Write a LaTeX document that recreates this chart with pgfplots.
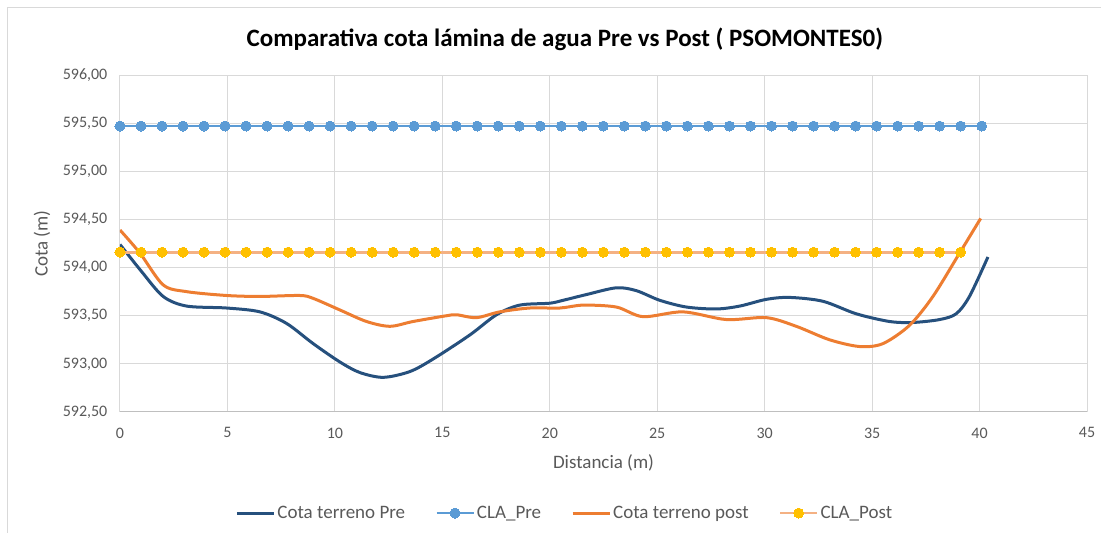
\documentclass[border=0pt]{standalone}
\usepackage{fontspec}
\setmainfont{Carlito}
\usepackage{pgfplots}
\pgfplotsset{compat=1.18}
\definecolor{navy}{RGB}{38,80,125}
\definecolor{lblue}{HTML}{5B9BD5}
\definecolor{orng}{HTML}{ED7D31}
\definecolor{lorng}{HTML}{F4B183}
\definecolor{gold}{HTML}{FFC000}
\definecolor{gridgray}{HTML}{D9D9D9}
\definecolor{axgray}{HTML}{BFBFBF}
\definecolor{txtgray}{HTML}{595959}
\begin{document}
\begin{tikzpicture}
\useasboundingbox (0,0) rectangle (1101pt,533pt);
\draw[gridgray, line width=1pt] (7pt,-5pt) -- (7pt,525pt) -- (1110pt,525pt);
\begin{axis}[
  at={(120pt,121pt)}, anchor=south west,
  width=967pt, height=337pt, scale only axis,
  xmin=0, xmax=45, ymin=592.5, ymax=596,
  xtick={0,5,...,45}, ytick={592.5,593,593.5,594,594.5,595,595.5,596},
  grid=major, grid style={draw=gridgray, line width=1pt},
  axis x line=bottom, axis y line=left, axis line style={-},
  x axis line style={draw=axgray, line width=1pt},
  y axis line style={draw=gridgray, line width=1pt},
  tick style={draw=none},
  /pgf/number format/assume math mode=true,
  yticklabel={\pgfmathprintnumber[fixed,fixed zerofill,precision=2,use comma,1000 sep={}]{\tick}},
  xticklabel={\pgfmathprintnumber[fixed,precision=0]{\tick}},
  ticklabel style={font=\fontsize{16}{19}\selectfont, text=txtgray},
  yticklabel style={xshift=-7pt},
  xticklabel style={yshift=-10pt},
  xlabel={Distancia (m)}, ylabel={Cota (m)},
  label style={font=\fontsize{19}{22}\selectfont, text=txtgray},
  xlabel style={at={(axis description cs:0.5,-0.150)}, anchor=center},
  ylabel style={at={(axis description cs:-0.0807,0.5)}, anchor=center},
  title={Comparativa cota lámina de agua Pre vs Post ( PSOMONTES0)},
  title style={font=\fontsize{25}{30}\bfseries\selectfont, at={(axis description cs:0.460,1.087)}, anchor=center},
  legend columns=4,
  legend style={draw=none, fill=none, font=\fontsize{19}{22}\selectfont, text=txtgray,
    at={(axis description cs:0.460,-0.300)}, anchor=center,
    /tikz/every even column/.append style={column sep=28pt}},
  legend image code/.code={\draw[mark repeat=2,mark phase=2,#1] plot coordinates {(0pt,0pt) (18.5pt,0pt) (37pt,0pt)};},
]
\addplot[navy, line width=3pt, smooth, tension=0.5] coordinates {
(0,594.24) (1,593.96) (2.01,593.70) (3.1,593.60) (4.96,593.58) (6.51,593.54) (7.75,593.42)
(8.99,593.21) (10.23,593.02) (11.16,592.91) (12.25,592.86) (13.49,592.92) (14.57,593.05)
(16.28,593.30) (17.52,593.51) (18.6,593.61) (20.0,593.63) (20.62,593.66) (21.71,593.72)
(23.1,593.79) (24.03,593.76) (25.12,593.66) (26.36,593.59) (27.75,593.57) (28.84,593.60)
(30.08,593.67) (31.16,593.69) (32.71,593.65) (34.26,593.52) (35.81,593.44) (36.9,593.43)
(38.14,593.46) (38.91,593.52) (39.53,593.70) (40.39,594.11)};
\addlegendentry{Cota terreno Pre}
\addplot[lblue, line width=2.8pt, mark=*, mark size=5pt, mark options={fill=lblue, draw=lblue, line width=0pt}] coordinates {
(0,595.47) (0.978,595.47) (1.956,595.47) (2.934,595.47) (3.912,595.47) (4.89,595.47) (5.868,595.47)
(6.846,595.47) (7.824,595.47) (8.802,595.47) (9.78,595.47) (10.758,595.47) (11.736,595.47)
(12.714,595.47) (13.692,595.47) (14.67,595.47) (15.648,595.47) (16.626,595.47) (17.604,595.47)
(18.582,595.47) (19.56,595.47) (20.538,595.47) (21.516,595.47) (22.494,595.47) (23.472,595.47)
(24.45,595.47) (25.428,595.47) (26.406,595.47) (27.384,595.47) (28.362,595.47) (29.34,595.47)
(30.318,595.47) (31.296,595.47) (32.274,595.47) (33.252,595.47) (34.23,595.47) (35.208,595.47)
(36.186,595.47) (37.164,595.47) (38.142,595.47) (39.12,595.47) (40.098,595.47)};
\addlegendentry{CLA\_Pre}
\addplot[orng, line width=3pt, smooth, tension=0.5] coordinates {
(0,594.39) (0.93,594.15) (2.01,593.82) (3.1,593.75) (4.96,593.71) (6.51,593.70) (8.37,593.71)
(8.99,593.68) (10.23,593.56) (11.47,593.44) (12.56,593.39) (13.64,593.44) (15.2,593.50)
(15.66,593.51) (16.59,593.48) (17.67,593.54) (19.07,593.58) (20.47,593.58) (21.55,593.61)
(23.1,593.59) (24.34,593.49) (26.2,593.54) (28.22,593.46) (30.08,593.48) (31.47,593.39)
(33.02,593.25) (34.42,593.18) (35.5,593.21) (36.74,593.40) (37.83,593.70) (39.07,594.15)
(40.05,594.51)};
\addlegendentry{Cota terreno post}
\addplot[lorng, line width=2.8pt, mark=*, mark size=5pt, mark options={fill=gold, draw=gold, line width=0pt}] coordinates {
(0,594.16) (0.978,594.16) (1.956,594.16) (2.934,594.16) (3.912,594.16) (4.89,594.16) (5.868,594.16)
(6.846,594.16) (7.824,594.16) (8.802,594.16) (9.78,594.16) (10.758,594.16) (11.736,594.16)
(12.714,594.16) (13.692,594.16) (14.67,594.16) (15.648,594.16) (16.626,594.16) (17.604,594.16)
(18.582,594.16) (19.56,594.16) (20.538,594.16) (21.516,594.16) (22.494,594.16) (23.472,594.16)
(24.45,594.16) (25.428,594.16) (26.406,594.16) (27.384,594.16) (28.362,594.16) (29.34,594.16)
(30.318,594.16) (31.296,594.16) (32.274,594.16) (33.252,594.16) (34.23,594.16) (35.208,594.16)
(36.186,594.16) (37.164,594.16) (38.142,594.16) (39.12,594.16)};
\addlegendentry{CLA\_Post}
\end{axis}
\end{tikzpicture}
\end{document}
